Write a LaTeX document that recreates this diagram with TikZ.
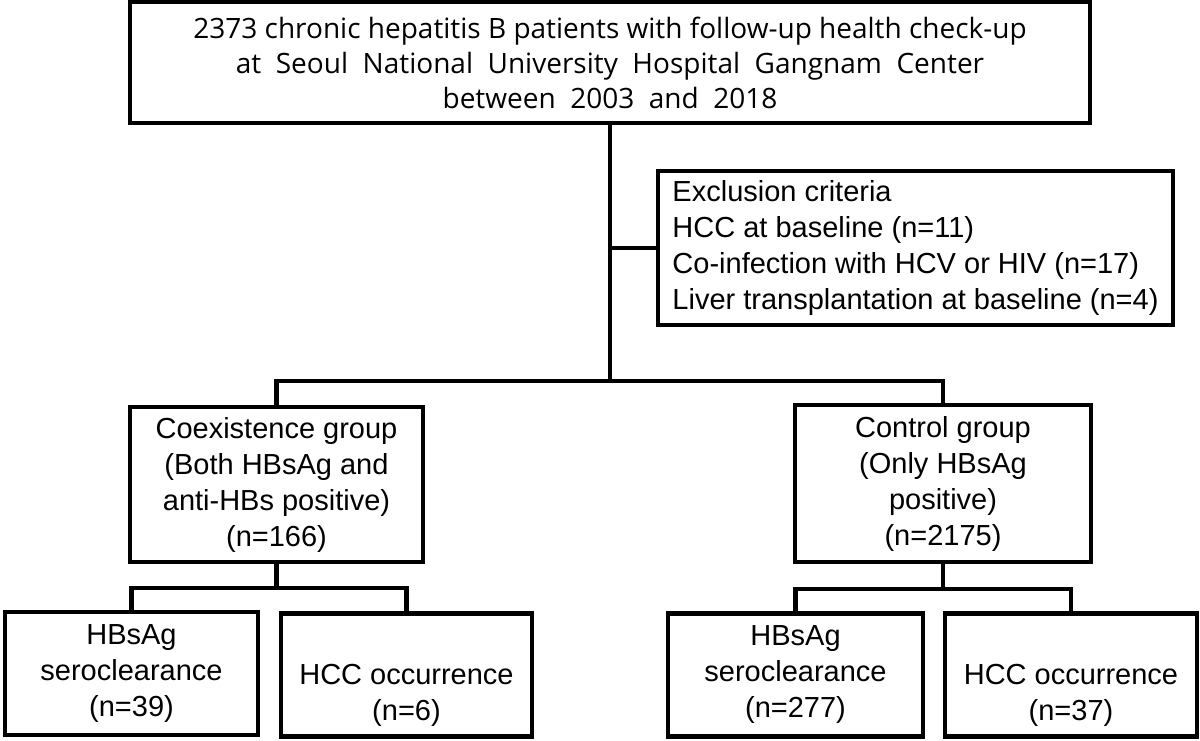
\documentclass[tikz,border=0pt]{standalone}
\usepackage{fontspec}
\setmainfont{Liberation Sans}
\newfontfamily\topfont{Open Sans}
\begin{document}
\begin{tikzpicture}[x=1pt,y=-1pt,
  box/.style={draw=black, line width=4.5pt, fill=white, inner sep=0pt, align=center,
    font=\fontsize{29}{36}\selectfont},
  conn/.style={draw=black, line width=4.5pt}]
\useasboundingbox[fill=white] (0,0) rectangle (1200,740);
\node[box, minimum width=960pt, minimum height=121pt, font=\topfont\fontsize{28}{35}\selectfont] (top) at (610,62.5)
  {2373 chronic hepatitis B patients with follow-up health check-up\\
   at\ \ Seoul\ \ National\ \ University\ \ Hospital\ \ Gangnam\ \ Center\\
   between\ \ 2003\ \ and\ \ 2018};
\node[box, minimum width=515pt, minimum height=154pt, align=left] (excl) at (915.5,248)
  {Exclusion criteria\\
   HCC at baseline (n=11)\\
   Co-infection with HCV or HIV (n=17)\\
   Liver transplantation at baseline (n=4)};
\node[box, minimum width=293pt, minimum height=155pt] (coex) at (276.5,484.5)
  {Coexistence group\\(Both HBsAg and\\anti-HBs positive)\\(n=166)};
\node[box, minimum width=296pt, minimum height=157pt] (ctrl) at (943,483.5)
  {Control group\\(Only HBsAg\\positive)\\(n=2175)};
\node[box, minimum width=253pt, minimum height=123pt] (b1) at (131.5,673.5)
  {HBsAg\\seroclearance\\(n=39)};
\node[box, minimum width=251pt, minimum height=123pt] (b2) at (406.5,675)
  {\strut\\HCC occurrence\\(n=6)};
\node[box, minimum width=255pt, minimum height=123pt] (b3) at (795.5,675)
  {HBsAg\\seroclearance\\(n=277)};
\node[box, minimum width=252pt, minimum height=123pt] (b4) at (1071,675)
  {\strut\\HCC occurrence\\(n=37)};
\coordinate (j1) at (610,381);
\coordinate (j2) at (276.5,588);
\coordinate (j3) at (943,589);
\draw[conn] (top.south) -- (j1);
\draw[conn] (excl.west) -- (excl.west -| top.south);
\draw[conn] (coex.north) |- (j1) -| (ctrl.north);
\draw[conn] (coex.south) -- (j2);
\draw[conn] (b1.north) |- (j2) -| (b2.north);
\draw[conn] (ctrl.south) -- (j3);
\draw[conn] (b3.north) |- (j3) -| (b4.north);
\end{tikzpicture}
\end{document}
